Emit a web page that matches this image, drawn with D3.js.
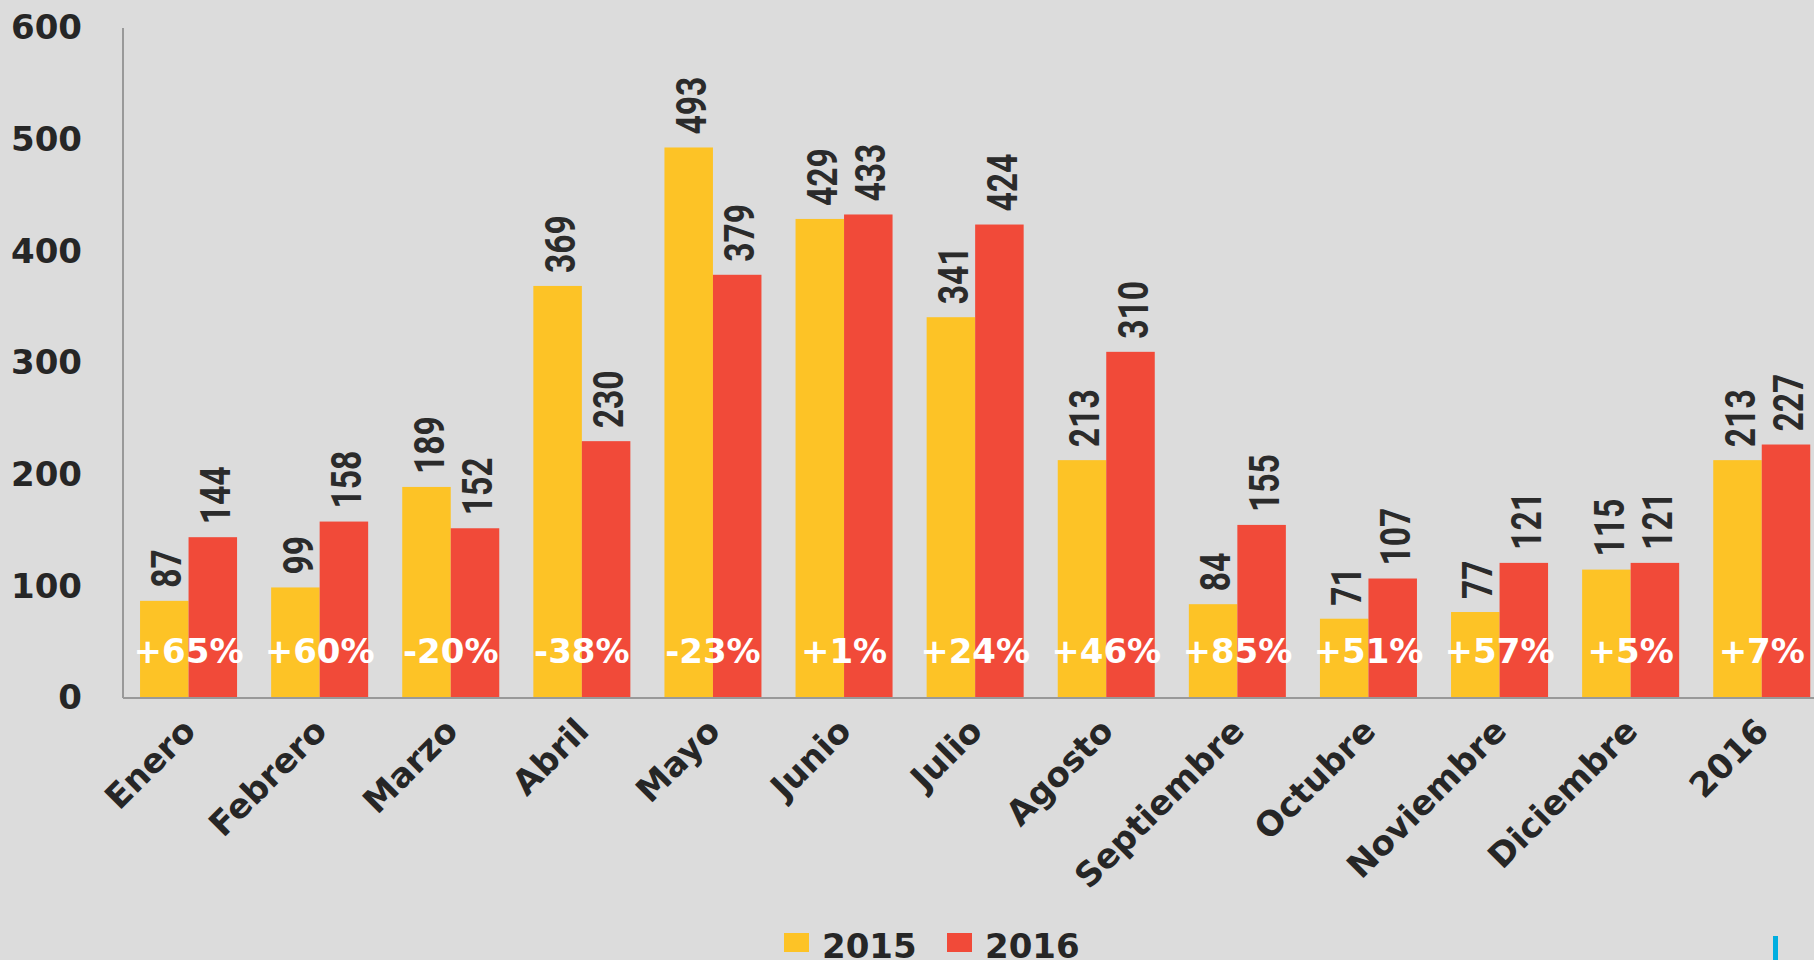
<!DOCTYPE html>
<html>
<head>
<meta charset="utf-8">
<script src="https://cdn.jsdelivr.net/npm/d3@7"></script>
<style>
  body { margin: 0; background: #dcdcdc; }
  svg { display: block; }
</style>
</head>
<body>
<svg id="chart"></svg>
<script>
// data
const categories = ["Enero", "Febrero", "Marzo", "Abril", "Mayo", "Junio", "Julio", "Agosto", "Septiembre", "Octubre", "Noviembre", "Diciembre", "2016"];
const values2015 = [87, 99, 189, 369, 493, 429, 341, 213, 84, 71, 77, 115, 213];
const values2016 = [144, 158, 152, 230, 379, 433, 424, 310, 155, 107, 121, 121, 227];
const changeLabels = ["+65%", "+60%", "-20%", "-38%", "-23%", "+1%", "+24%", "+46%", "+85%", "+51%", "+57%", "+5%", "+7%"];
const seriesNames = ["2015", "2016"];
const yTicks = [0, 100, 200, 300, 400, 500, 600];

const width = 1814, height = 960;
const colors = { "2015": "#fdc326", "2016": "#f14a39" };
const textColor = "#262626";
const mainFont = "'DejaVu Sans', sans-serif";

const svg = d3.select("#chart")
    .attr("width", width)
    .attr("height", height);

svg.append("rect")
    .attr("width", width)
    .attr("height", height)
    .attr("fill", "#dcdcdc");

const axisX = 123, baseY = 698, topY = 28;
const step = 131.1;

const xScale = d3.scaleBand()
    .domain(categories)
    .range([axisX, axisX + step * categories.length])
    .paddingInner(0.26)
    .paddingOuter(0.13);

const xSub = d3.scaleBand()
    .domain(seriesNames)
    .range([0, xScale.bandwidth()]);

const yScale = d3.scaleLinear()
    .domain([0, 600])
    .range([baseY, topY]);

const rows = categories.map((c, i) => ({
  category: c,
  change: changeLabels[i],
  values: [
    { series: "2015", value: values2015[i] },
    { series: "2016", value: values2016[i] }
  ]
}));

// y tick labels (no tick marks)
const yAxis = d3.axisLeft(yScale).tickValues(yTicks).tickSize(0).tickPadding(41);
const yAxisG = svg.append("g")
    .attr("transform", `translate(${axisX},0)`)
    .call(yAxis);
yAxisG.select(".domain").remove();
yAxisG.selectAll("text")
    .attr("fill", textColor)
    .attr("font-family", mainFont)
    .attr("font-weight", "bold")
    .attr("font-size", 34);

// bars
const groups = svg.append("g").selectAll("g")
  .data(rows)
  .join("g")
    .attr("transform", d => `translate(${xScale(d.category)},0)`);

groups.selectAll("rect")
  .data(d => d.values)
  .join("rect")
    .attr("x", d => xSub(d.series))
    .attr("y", d => yScale(d.value))
    .attr("width", xSub.bandwidth())
    .attr("height", d => baseY - yScale(d.value))
    .attr("fill", d => colors[d.series]);

// value labels, rotated and condensed
groups.selectAll("g.val")
  .data(d => d.values)
  .join("g")
    .attr("class", "val")
    .attr("transform", d => `translate(${xSub(d.series) + xSub.bandwidth() / 2 + 2},${yScale(d.value) - 13}) rotate(-90) scale(0.8,1)`)
  .append("text")
    .attr("dy", "0.36em")
    .attr("fill", "#2b2b2b")
    .attr("font-family", "Roboto, sans-serif")
    .attr("font-weight", "bold")
    .attr("font-size", 42)
    .text(d => d.value);

// percentage change labels
groups.append("text")
    .attr("x", xScale.bandwidth() / 2)
    .attr("y", 663)
    .attr("text-anchor", "middle")
    .attr("fill", "#ffffff")
    .attr("font-family", mainFont)
    .attr("font-weight", "bold")
    .attr("font-size", 34)
    .text(d => d.change);

// axis lines
svg.append("line")
    .attr("x1", axisX).attr("x2", axisX)
    .attr("y1", topY).attr("y2", baseY)
    .attr("stroke", "#999999")
    .attr("stroke-width", 2);
svg.append("line")
    .attr("x1", axisX).attr("x2", width)
    .attr("y1", baseY).attr("y2", baseY)
    .attr("stroke", "#999999")
    .attr("stroke-width", 2);

// category labels at an angle
svg.append("g").selectAll("text")
  .data(categories)
  .join("text")
    .attr("transform", d => `translate(${xScale(d) + xScale.bandwidth() / 2 + 9},733) rotate(-45)`)
    .attr("text-anchor", "end")
    .attr("fill", textColor)
    .attr("font-family", mainFont)
    .attr("font-weight", "bold")
    .attr("font-size", 34)
    .text(d => d);

// legend
const legend = svg.append("g").selectAll("g")
  .data(seriesNames)
  .join("g")
    .attr("transform", (d, i) => `translate(${784 + i * 163},933)`);
legend.append("rect")
    .attr("width", 25)
    .attr("height", 19)
    .attr("fill", d => colors[d]);
legend.append("text")
    .attr("x", 38)
    .attr("y", 25)
    .attr("fill", textColor)
    .attr("font-family", mainFont)
    .attr("font-weight", "bold")
    .attr("font-size", 34)
    .text(d => d);

// small blue mark at the bottom right of the original
svg.append("rect")
    .attr("x", 1773).attr("y", 936)
    .attr("width", 5).attr("height", 24)
    .attr("fill", "#00aee0");
</script>
</body>
</html>
